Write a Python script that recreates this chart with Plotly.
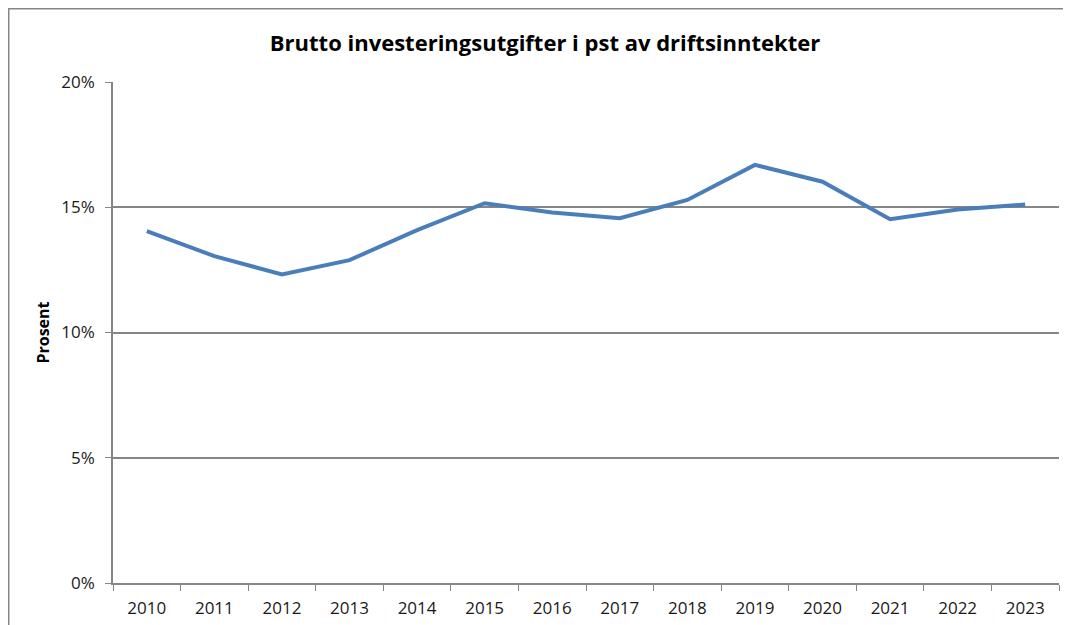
import plotly.graph_objects as go

years = ["2010", "2011", "2012", "2013", "2014", "2015", "2016",
         "2017", "2018", "2019", "2020", "2021", "2022", "2023"]
values = [14.05, 13.05, 12.32, 12.89, 14.09, 15.16, 14.79,
          14.56, 15.29, 16.69, 16.02, 14.52, 14.91, 15.11]
y_ticks = [0, 5, 10, 15, 20]
y_tick_labels = ["0%", "5%", "10%", "15%", "20%"]

title_text = "Brutto investeringsutgifter i pst av driftsinntekter"
y_title = "Prosent"

# the page body offsets the figure by 8px, so the figure is sized to fit the window
W, H = 1063, 617
L, R, T, B = 105, 12, 74, 42
pw, ph = W - L - R, H - T - B

def px_x(x):
    return (x - L) / pw

def px_y(y):
    return (H - B - y) / ph

tick_font = "Open Sans, sans-serif"

fig = go.Figure()
fig.add_trace(go.Scatter(
    x=years, y=values, mode="lines",
    line=dict(color="#4A7EBB", width=4),
    showlegend=False, hoverinfo="x+y"))

fig.update_layout(
    width=W, height=H,
    margin=dict(l=L, r=R, t=T, b=B),
    paper_bgcolor="white", plot_bgcolor="white",
    font=dict(family=tick_font, color="#1a1a1a", size=15),
    title=dict(text="<b>" + title_text + "</b>", x=(545 - 8) / W, xanchor="center",
               y=1 - 35 / H, yanchor="middle",
               font=dict(family="Open Sans, sans-serif", size=22, color="#000000")),
    xaxis=dict(type="category", showgrid=False, showline=True,
               linecolor="#868686", linewidth=1.5,
               ticks="outside", ticklen=6, tickcolor="#868686",
               tickson="boundaries",
               tickfont=dict(family=tick_font, size=17, color="#1a1a1a"),
               ticklabelstandoff=9, automargin=False,
               range=[-0.5, len(years) - 0.5], fixedrange=True),
    yaxis=dict(range=[0, 20], tickmode="array", tickvals=y_ticks,
               ticktext=y_tick_labels,
               showgrid=True, gridcolor="#868686", gridwidth=1.5,
               showline=True, linecolor="#868686", linewidth=1.5,
               ticks="outside", ticklen=6, tickcolor="#868686",
               zeroline=False,
               tickfont=dict(family=tick_font, size=17, color="#1a1a1a"),
               ticklabelstandoff=7, automargin=False,
               title=dict(text="<b>" + y_title + "</b>",
                          font=dict(family=tick_font, size=16, color="#000000"),
                          standoff=8),
               fixedrange=True),
)

# outer chart border
fig.add_shape(type="rect", xref="paper", yref="paper",
              x0=px_x(0.75), x1=px_x(1058), y0=px_y(640), y1=px_y(0.75),
              line=dict(color="#868686", width=1.5), fillcolor="rgba(0,0,0,0)",
              layer="below")

fig.write_html("out.html")
